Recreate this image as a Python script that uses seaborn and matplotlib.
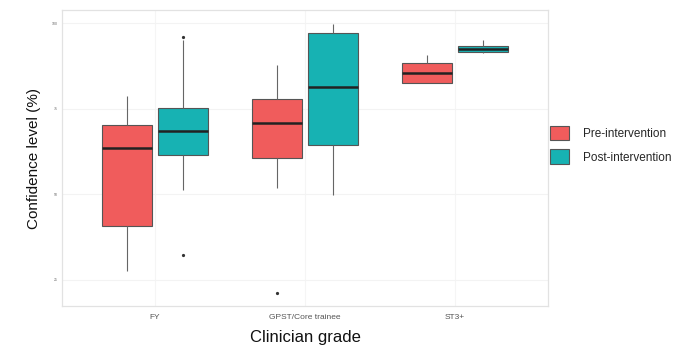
import pandas as pd
import matplotlib
matplotlib.use("Agg")
import matplotlib.pyplot as plt
import seaborn as sns

# confidence scores, one list per grade and phase
grades = ["FY", "GPST/Core trainee", "ST3+"]
phases = ["Pre-intervention", "Post-intervention"]
fy_pre = [27.5, 27.5, 40.9, 40.9, 63.5, 70.3, 70.3, 78.7, 78.7]
fy_post = [32.3, 51.3, 61.5, 61.5, 68.5, 75.1, 75.1, 95.0, 96.0]
gpst_pre = [21.2, 51.8, 60.6, 60.6, 70.9, 77.8, 77.8, 87.7, 87.7]
gpst_post = [49.8, 49.8, 64.3, 64.3, 81.2, 97.2, 97.2, 99.7, 99.7]
st3_pre = [82.6, 82.6, 82.6, 82.6, 85.3, 88.2, 88.2, 90.7, 90.7]
st3_post = [91.2, 91.2, 91.5, 91.5, 92.4, 93.4, 93.4, 95.0, 95.0]
y_ticks = [25, 50, 75, 100]
colors = ["#F05C5C", "#17B2B3"]

groups = {
    ("FY", "Pre-intervention"): fy_pre,
    ("FY", "Post-intervention"): fy_post,
    ("GPST/Core trainee", "Pre-intervention"): gpst_pre,
    ("GPST/Core trainee", "Post-intervention"): gpst_post,
    ("ST3+", "Pre-intervention"): st3_pre,
    ("ST3+", "Post-intervention"): st3_post,
}
rows = []
for (g, p), vals in groups.items():
    for v in vals:
        rows.append({"grade": g, "phase": p, "score": v})
df = pd.DataFrame(rows)

sns.set_theme(style="white")
plt.rcParams["font.family"] = ["Liberation Sans", "DejaVu Sans"]

fig = plt.figure(figsize=(6.9, 3.45), dpi=100)
ax = fig.add_axes([0.0899, 0.113, 0.7043, 0.858])

sns.boxplot(data=df, x="grade", y="score", hue="phase", order=grades,
            hue_order=phases, palette=colors, width=0.75, gap=0.1,
            linecolor="#555555", linewidth=0.8, saturation=1,
            showcaps=False,
            whiskerprops={"color": "#666666"},
            medianprops={"color": "#222222", "linewidth": 1.8},
            flierprops={"marker": "o", "markersize": 1.3,
                        "markerfacecolor": "#333333",
                        "markeredgecolor": "#333333"},
            ax=ax)

ax.set_xlim(-0.62, 2.62)
ax.set_ylim(17.4, 103.8)
ax.set_yticks(y_ticks)
ax.set_yticklabels([str(t) for t in y_ticks], fontsize=2.5, color="#666666")
ax.tick_params(axis="x", labelsize=6, colors="#555555", length=2, pad=4)
ax.tick_params(axis="y", length=0, pad=3)
ax.yaxis.grid(True, color="#f3f3f3", linewidth=0.8)
ax.xaxis.grid(True, color="#f5f5f5", linewidth=0.8)
ax.set_axisbelow(True)
for s in ax.spines.values():
    s.set_color("#e2e2e2")
    s.set_linewidth(0.9)

ax.set_xlabel("Clinician grade", fontsize=12, labelpad=6, color="#111111")
ax.set_ylabel("Confidence level (%)", fontsize=11, labelpad=8, color="#111111")

sns.move_legend(ax, "center left", bbox_to_anchor=(0.995, 0.545), title=None,
                frameon=False, fontsize=8.5, handlelength=1.6,
                handleheight=1.5, labelspacing=0.8, handletextpad=1.2,
                borderaxespad=0)

fig.savefig("out.png", dpi=100)
